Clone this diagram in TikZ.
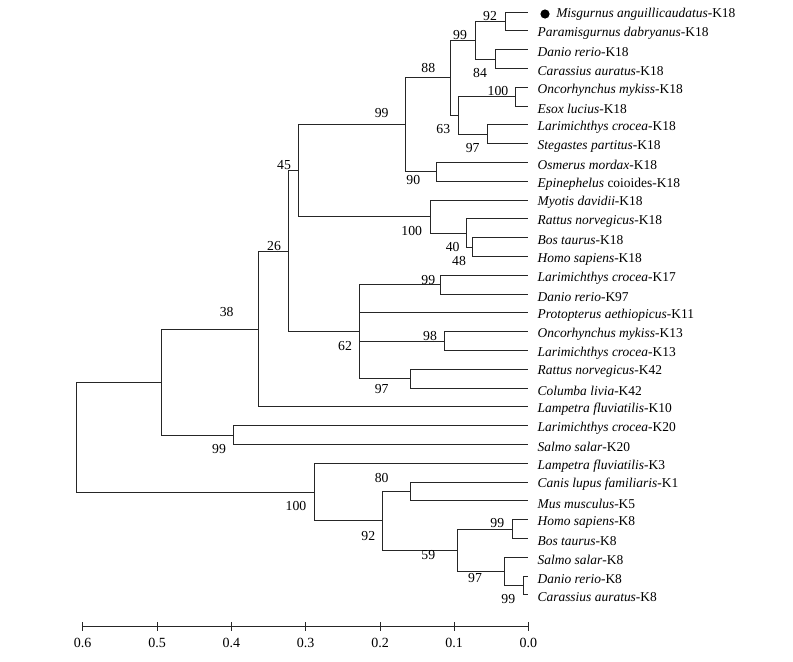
\documentclass[tikz,border=0pt]{standalone}
\usepackage{fontspec}
\setmainfont{Liberation Serif}
\usepackage{tikz}
\usetikzlibrary{positioning}

\tikzset{
  branch/.style={draw={black!85}, line width=0.6pt},
  leaflab/.style={anchor=west, inner sep=0pt, font=\fontsize{10.1}{12}\selectfont},
  bootlab/.style={inner sep=0pt, font=\fontsize{10.3}{12}\selectfont},
  axislab/.style={inner sep=0pt, font=\fontsize{10.5}{12}\selectfont}
}

\begin{document}
\begin{tikzpicture}[x=0.75pt,y=0.75pt,yscale=-1,xscale=1]
    \useasboundingbox (0,0) rectangle (793,661);

    % Leaf tips
    \coordinate (l1) at (528.3,12);
    \coordinate (l2) at (528.3,30.8);
    \coordinate (l3) at (528.3,49.6);
    \coordinate (l4) at (528.3,68.4);
    \coordinate (l5) at (528.3,87.2);
    \coordinate (l6) at (528.3,106);
    \coordinate (l7) at (528.3,124.8);
    \coordinate (l8) at (528.3,143.6);
    \coordinate (l9) at (528.3,162.4);
    \coordinate (l10) at (528.3,181.2);
    \coordinate (l11) at (528.3,200);
    \coordinate (l12) at (528.3,218.8);
    \coordinate (l13) at (528.3,237.6);
    \coordinate (l14) at (528.3,256.4);
    \coordinate (l15) at (528.3,275.2);
    \coordinate (l16) at (528.3,294);
    \coordinate (l17) at (528.3,312.8);
    \coordinate (l18) at (528.3,331.6);
    \coordinate (l19) at (528.3,350.4);
    \coordinate (l20) at (528.3,369.2);
    \coordinate (l21) at (528.3,388);
    \coordinate (l22) at (528.3,406.8);
    \coordinate (l23) at (528.3,425.6);
    \coordinate (l24) at (528.3,444.4);
    \coordinate (l25) at (528.3,463.2);
    \coordinate (l26) at (528.3,482);
    \coordinate (l27) at (528.3,500.8);
    \coordinate (l28) at (528.3,519.6);
    \coordinate (l29) at (528.3,538.4);
    \coordinate (l30) at (528.3,557.2);
    \coordinate (l31) at (528.3,576);
    \coordinate (l32) at (528.3,594.8);

    % Internal nodes
    \coordinate (nMisPar) at (505,21.4);
    \coordinate (nDanCar) at (495,59);
    \coordinate (nCyp) at (475.7,40.2);
    \coordinate (nOncEso) at (515.7,96.6);
    \coordinate (nLarSte) at (487.3,134.2);
    \coordinate (nEuT) at (458.3,115.4);
    \coordinate (nFishA) at (450,77.8);
    \coordinate (nOsmEpi) at (436,171.8);
    \coordinate (nFish) at (405.7,124.8);
    \coordinate (nBosHom) at (472.3,247);
    \coordinate (nRatBH) at (466.7,232.9);
    \coordinate (nMam) at (430,216.4);
    \coordinate (nKeightteen) at (298.3,170.6);
    \coordinate (nLarDan) at (440.7,284.6);
    \coordinate (nOncLar) at (444,341);
    \coordinate (nRatCol) at (410,378.6);
    \coordinate (nMulti) at (359,331.6);
    \coordinate (nUpper) at (288.3,251.1);
    \coordinate (nLamp) at (258.3,329);
    \coordinate (nLarSal) at (233.3,435);
    \coordinate (nTwenty) at (161.7,382);
    \coordinate (nCanMus) at (410,491.4);
    \coordinate (nHomBos) at (512.7,529);
    \coordinate (nDanCarE) at (523.3,585.4);
    \coordinate (nSalDC) at (504,571.3);
    \coordinate (nKeight) at (457.3,550.2);
    \coordinate (nMamKeight) at (382.7,520.8);
    \coordinate (nLower) at (314.3,492);
    \coordinate (root) at (76.7,437);

    % Branches
    \draw [branch] (nMisPar) |- (l1);
    \draw [branch] (nMisPar) |- (l2);
    \draw [branch] (nDanCar) |- (l3);
    \draw [branch] (nDanCar) |- (l4);
    \draw [branch] (nCyp) |- (nMisPar);
    \draw [branch] (nCyp) |- (nDanCar);
    \draw [branch] (nOncEso) |- (l5);
    \draw [branch] (nOncEso) |- (l6);
    \draw [branch] (nLarSte) |- (l7);
    \draw [branch] (nLarSte) |- (l8);
    \draw [branch] (nEuT) |- (nOncEso);
    \draw [branch] (nEuT) |- (nLarSte);
    \draw [branch] (nFishA) |- (nCyp);
    \draw [branch] (nFishA) |- (nEuT);
    \draw [branch] (nOsmEpi) |- (l9);
    \draw [branch] (nOsmEpi) |- (l10);
    \draw [branch] (nFish) |- (nFishA);
    \draw [branch] (nFish) |- (nOsmEpi);
    \draw [branch] (nBosHom) |- (l13);
    \draw [branch] (nBosHom) |- (l14);
    \draw [branch] (nRatBH) |- (l12);
    \draw [branch] (nRatBH) |- (nBosHom);
    \draw [branch] (nMam) |- (l11);
    \draw [branch] (nMam) |- (nRatBH);
    \draw [branch] (nKeightteen) |- (nFish);
    \draw [branch] (nKeightteen) |- (nMam);
    \draw [branch] (nLarDan) |- (l15);
    \draw [branch] (nLarDan) |- (l16);
    \draw [branch] (nOncLar) |- (l18);
    \draw [branch] (nOncLar) |- (l19);
    \draw [branch] (nRatCol) |- (l20);
    \draw [branch] (nRatCol) |- (l21);
    \draw [branch] (nMulti) |- (nLarDan);
    \draw [branch] (nMulti) |- (l17);
    \draw [branch] (nMulti) |- (nOncLar);
    \draw [branch] (nMulti) |- (nRatCol);
    \draw [branch] (nUpper) |- (nKeightteen);
    \draw [branch] (nUpper) |- (nMulti);
    \draw [branch] (nLamp) |- (nUpper);
    \draw [branch] (nLamp) |- (l22);
    \draw [branch] (nLarSal) |- (l23);
    \draw [branch] (nLarSal) |- (l24);
    \draw [branch] (nTwenty) |- (nLamp);
    \draw [branch] (nTwenty) |- (nLarSal);
    \draw [branch] (nCanMus) |- (l26);
    \draw [branch] (nCanMus) |- (l27);
    \draw [branch] (nHomBos) |- (l28);
    \draw [branch] (nHomBos) |- (l29);
    \draw [branch] (nDanCarE) |- (l31);
    \draw [branch] (nDanCarE) |- (l32);
    \draw [branch] (nSalDC) |- (l30);
    \draw [branch] (nSalDC) |- (nDanCarE);
    \draw [branch] (nKeight) |- (nHomBos);
    \draw [branch] (nKeight) |- (nSalDC);
    \draw [branch] (nMamKeight) |- (nCanMus);
    \draw [branch] (nMamKeight) |- (nKeight);
    \draw [branch] (nLower) |- (l25);
    \draw [branch] (nLower) |- (nMamKeight);
    \draw [branch] (root) |- (nTwenty);
    \draw [branch] (root) |- (nLower);

    % Leaf labels
    \fill [black] (545,14) circle (4.6);
    \node (t1) [leaflab] at (556,14) {\textit{Misgurnus anguillicaudatus}-K18};
    \node (t2) [leaflab, right=9 of l2, yshift=-2] {\textit{Paramisgurnus dabryanus}-K18};
    \node (t3) [leaflab, right=9 of l3, yshift=-2] {\textit{Danio rerio}-K18};
    \node (t4) [leaflab, right=9 of l4, yshift=-2] {\textit{Carassius auratus}-K18};
    \node (t5) [leaflab, right=9 of l5, yshift=-2] {\textit{Oncorhynchus mykiss}-K18};
    \node (t6) [leaflab, right=9 of l6, yshift=-2] {\textit{Esox lucius}-K18};
    \node (t7) [leaflab, right=9 of l7, yshift=-2] {\textit{Larimichthys crocea}-K18};
    \node (t8) [leaflab, right=9 of l8, yshift=-2] {\textit{Stegastes partitus}-K18};
    \node (t9) [leaflab, right=9 of l9, yshift=-2] {\textit{Osmerus mordax}-K18};
    \node (t10) [leaflab, right=9 of l10, yshift=-2] {\textit{Epinephelus} coioides-K18};
    \node (t11) [leaflab, right=9 of l11, yshift=-2] {\textit{Myotis davidii}-K18};
    \node (t12) [leaflab, right=9 of l12, yshift=-2] {\textit{Rattus norvegicus}-K18};
    \node (t13) [leaflab, right=9 of l13, yshift=-2] {\textit{Bos taurus}-K18};
    \node (t14) [leaflab, right=9 of l14, yshift=-2] {\textit{Homo sapiens}-K18};
    \node (t15) [leaflab, right=9 of l15, yshift=-2] {\textit{Larimichthys crocea}-K17};
    \node (t16) [leaflab, right=9 of l16, yshift=-2] {\textit{Danio rerio}-K97};
    \node (t17) [leaflab, right=9 of l17, yshift=-2] {\textit{Protopterus aethiopicus}-K11};
    \node (t18) [leaflab, right=9 of l18, yshift=-2] {\textit{Oncorhynchus mykiss}-K13};
    \node (t19) [leaflab, right=9 of l19, yshift=-2] {\textit{Larimichthys crocea}-K13};
    \node (t20) [leaflab, right=9 of l20, yshift=-2] {\textit{Rattus norvegicus}-K42};
    \node (t21) [leaflab, right=9 of l21, yshift=-2] {\textit{Columba livia}-K42};
    \node (t22) [leaflab, right=9 of l22, yshift=-2] {\textit{Lampetra fluviatilis}-K10};
    \node (t23) [leaflab, right=9 of l23, yshift=-2] {\textit{Larimichthys crocea}-K20};
    \node (t24) [leaflab, right=9 of l24, yshift=-2] {\textit{Salmo salar}-K20};
    \node (t25) [leaflab, right=9 of l25, yshift=-2] {\textit{Lampetra fluviatilis}-K3};
    \node (t26) [leaflab, right=9 of l26, yshift=-2] {\textit{Canis lupus familiaris}-K1};
    \node (t27) [leaflab, right=9 of l27, yshift=-2] {\textit{Mus musculus}-K5};
    \node (t28) [leaflab, right=9 of l28, yshift=-2] {\textit{Homo sapiens}-K8};
    \node (t29) [leaflab, right=9 of l29, yshift=-2] {\textit{Bos taurus}-K8};
    \node (t30) [leaflab, right=9 of l30, yshift=-2] {\textit{Salmo salar}-K8};
    \node (t31) [leaflab, right=9 of l31, yshift=-2] {\textit{Danio rerio}-K8};
    \node (t32) [leaflab, right=9 of l32, yshift=-2] {\textit{Carassius auratus}-K8};

    % Bootstrap values
    \node (b1) [bootlab] at (490,15.7) {92};
    \node (b2) [bootlab] at (460,35) {99};
    \node (b3) [bootlab] at (480,72.7) {84};
    \node (b4) [bootlab] at (498,90.7) {100};
    \node (b5) [bootlab] at (443.3,129) {63};
    \node (b6) [bootlab] at (472.7,147.7) {97};
    \node (b7) [bootlab] at (428.3,68.3) {88};
    \node (b8) [bootlab] at (413.3,180) {90};
    \node (b9) [bootlab] at (381.7,112.7) {99};
    \node (b10) [bootlab] at (284,165) {45};
    \node (b11) [bootlab] at (411.7,230.7) {100};
    \node (b12) [bootlab] at (452.7,246.7) {40};
    \node (b13) [bootlab] at (459,261) {48};
    \node (b14) [bootlab] at (274,245.7) {26};
    \node (b15) [bootlab] at (428.3,280) {99};
    \node (b16) [bootlab] at (430,336) {98};
    \node (b17) [bootlab] at (345,345.7) {62};
    \node (b18) [bootlab] at (381.7,389.3) {97};
    \node (b19) [bootlab] at (226.7,311.7) {38};
    \node (b20) [bootlab] at (219,449) {99};
    \node (b21) [bootlab] at (381.7,477.7) {80};
    \node (b22) [bootlab] at (296,506) {100};
    \node (b23) [bootlab] at (368.3,536) {92};
    \node (b24) [bootlab] at (497.3,523.3) {99};
    \node (b25) [bootlab] at (428.3,555) {59};
    \node (b26) [bootlab] at (475,578.3) {97};
    \node (b27) [bootlab] at (508.3,599.3) {99};

    % Scale axis
    \draw [branch] (82.7,626.7) -- (528.3,626.7);
    \draw [branch] (82.7,622.2) -- (82.7,631.2);
    \draw [branch] (157,622.2) -- (157,631.2);
    \draw [branch] (231.3,622.2) -- (231.3,631.2);
    \draw [branch] (305.6,622.2) -- (305.6,631.2);
    \draw [branch] (380,622.2) -- (380,631.2);
    \draw [branch] (454.2,622.2) -- (454.2,631.2);
    \draw [branch] (528.3,622.2) -- (528.3,631.2);
    \node (a6) [axislab] at (82.7,643) {0.6};
    \node (a5) [axislab] at (157,643) {0.5};
    \node (a4) [axislab] at (231.3,643) {0.4};
    \node (a3) [axislab] at (305.6,643) {0.3};
    \node (a2) [axislab] at (380,643) {0.2};
    \node (a1) [axislab] at (454.2,643) {0.1};
    \node (a0) [axislab] at (528.3,643) {0.0};

\end{tikzpicture}
\end{document}
